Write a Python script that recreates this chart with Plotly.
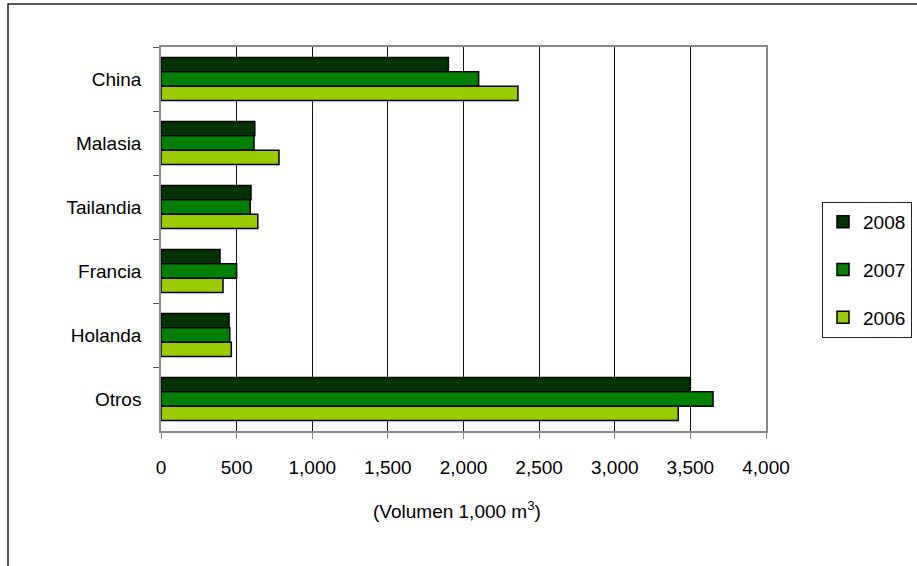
import plotly.graph_objects as go

# Volumen por país de origen (miles de m3)
paises = ["China", "Malasia", "Tailandia", "Francia", "Holanda", "Otros"]
anios = ["2008", "2007", "2006"]
v2008 = [1900, 620, 595, 390, 450, 3500]
v2007 = [2100, 615, 590, 500, 455, 3650]
v2006 = [2360, 780, 640, 410, 465, 3420]
colores = ["#003300", "#008000", "#99CC00"]
xticks = [0, 500, 1000, 1500, 2000, 2500, 3000, 3500, 4000]
xtick_text = ["0", "500", "1,000", "1,500", "2,000", "2,500", "3,000", "3,500", "4,000"]

FONT = "Liberation Sans, Arial, sans-serif"
W, H = 917, 566
L, R, T, B = 161, 151, 47, 135
pw, ph = W - L - R, H - T - B

fig = go.Figure()
for anio, vals, col in zip(anios, [v2008, v2007, v2006], colores):
    fig.add_trace(go.Bar(
        y=paises, x=vals, name=anio, orientation="h",
        marker=dict(color=col, line=dict(color="#000000", width=1.5)),
        legendgroup=anio,
    ))

def px_x(p):
    return (p - L) / pw

def px_y(p):
    return (H - B - p) / ph

fig.update_layout(
    width=W, height=H,
    margin=dict(l=L, r=R, t=T, b=B, autoexpand=False),
    paper_bgcolor="white", plot_bgcolor="white",
    barmode="group", bargap=0.33, bargroupgap=0,
    font=dict(family=FONT, size=19, color="#000000"),
    showlegend=True,
    legend=dict(
        x=px_x(822), y=px_y(202), xanchor="left", yanchor="top",
        bordercolor="#222222", borderwidth=1, bgcolor="white",
        traceorder="grouped", tracegroupgap=20,
        font=dict(family=FONT, size=19),
        itemwidth=30,
    ),
    xaxis=dict(
        range=[0, 4000], tickvals=xticks, ticktext=xtick_text,
        showgrid=True, gridcolor="#111111", gridwidth=1,
        showline=True, linecolor="#888888", linewidth=1.5, mirror=True,
        ticks="outside", ticklen=6, tickcolor="#888888",
        zeroline=False, ticklabelstandoff=12,
    ),
    yaxis=dict(
        categoryorder="array", categoryarray=paises, autorange="reversed",
        showgrid=False, showline=True, linecolor="#888888", linewidth=1.5,
        mirror=True, ticks="outside", ticklen=6, tickcolor="#555555",
        tickson="boundaries", ticklabelstandoff=14,
    ),
    shapes=[dict(
        type="rect", xref="paper", yref="paper",
        x0=px_x(8), x1=px_x(W + 20), y0=px_y(H + 20), y1=px_y(4),
        line=dict(color="#222222", width=1.5), fillcolor="rgba(0,0,0,0)",
        layer="below",
    )],
    annotations=[dict(
        text="(Volumen 1,000 m<sup>3</sup>)", xref="paper", yref="paper",
        x=px_x(457), y=px_y(510), xanchor="center", yanchor="middle",
        showarrow=False, font=dict(family=FONT, size=19),
    )],
)

fig.write_html("out.html")
